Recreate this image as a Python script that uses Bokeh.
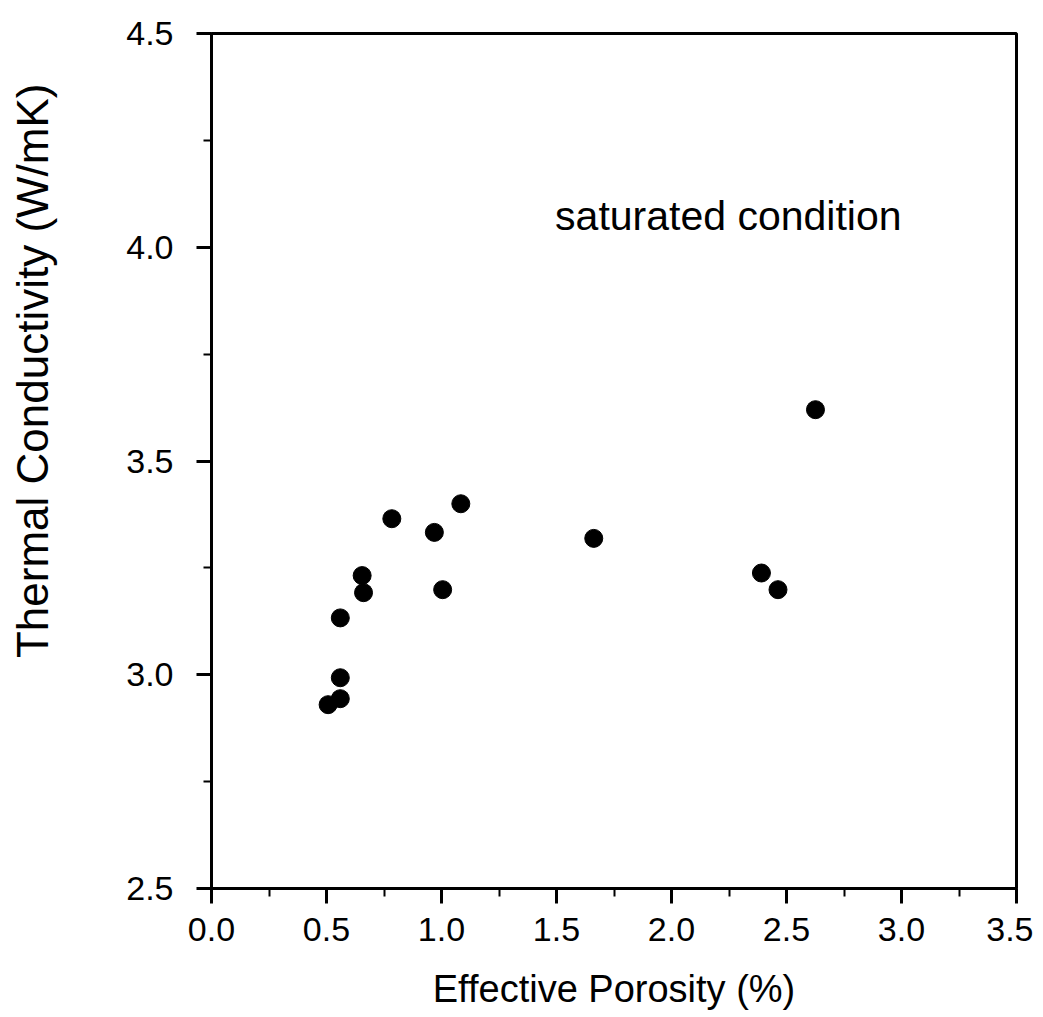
from bokeh.plotting import figure
from bokeh.models import Range1d, FixedTicker, NumeralTickFormatter, Label, Title, ColumnDataSource
from bokeh.embed import file_html
from bokeh.resources import INLINE

# ---- data ----
porosity = [0.507, 0.560, 0.560, 0.560, 0.655, 0.661, 0.784, 0.969, 1.005, 1.084, 1.662, 2.391, 2.463, 2.626]
conductivity = [2.930, 2.944, 2.993, 3.133, 3.232, 3.192, 3.365, 3.333, 3.199, 3.400, 3.319, 3.238, 3.199, 3.620]

x_ticks = [0.0, 0.5, 1.0, 1.5, 2.0, 2.5, 3.0, 3.5]
x_minor = [0.25, 0.75, 1.25, 1.75, 2.25, 2.75, 3.25]
y_ticks = [2.5, 3.0, 3.5, 4.0, 4.5]
y_minor = [2.75, 3.25, 3.75, 4.25]

x_label = "Effective Porosity (%)"
y_label = "Thermal Conductivity (W/mK)"
note = "saturated condition"

FONT = "Liberation Sans"

p = figure(width=1033, height=1017,
           x_range=Range1d(0, 3.5), y_range=Range1d(2.5, 4.5),
           output_backend="svg", toolbar_location=None,
           min_border_left=208, min_border_right=17,
           min_border_top=33, min_border_bottom=129)

p.background_fill_color = "white"
p.border_fill_color = "white"
p.outline_line_color = "black"
p.outline_line_width = 3
p.xgrid.visible = False
p.ygrid.visible = False

src = ColumnDataSource(dict(x=porosity, y=conductivity))
p.scatter("x", "y", source=src, size=18, marker="circle",
          fill_color="black", line_color="black")

for ax in (p.xaxis[0], p.yaxis[0]):
    ax.axis_line_width = 3
    ax.axis_line_color = "black"
    ax.major_tick_line_width = 3
    ax.minor_tick_line_width = 2
    ax.major_tick_in = 0
    ax.major_tick_out = 15
    ax.minor_tick_in = 0
    ax.minor_tick_out = 8
    ax.major_label_text_font = FONT
    ax.major_label_text_font_size = "34px"
    ax.major_label_text_color = "black"
    ax.formatter = NumeralTickFormatter(format="0.0")

p.xaxis[0].ticker = FixedTicker(ticks=x_ticks, minor_ticks=x_minor)
p.yaxis[0].ticker = FixedTicker(ticks=y_ticks, minor_ticks=y_minor)
p.xaxis[0].major_label_standoff = 14
p.yaxis[0].major_label_standoff = 23

p.xaxis[0].axis_label = x_label
p.xaxis[0].axis_label_text_font = FONT
p.xaxis[0].axis_label_text_font_size = "38px"
p.xaxis[0].axis_label_text_font_style = "normal"
p.xaxis[0].axis_label_text_color = "black"
p.xaxis[0].axis_label_standoff = 24

# spacer so that the y title sits at the far left, as in the reference
p.yaxis[0].axis_label = " "
p.yaxis[0].axis_label_text_font_size = "1px"
p.yaxis[0].axis_label_standoff = 58

# y-axis title, shifted toward the top like the reference
p.add_layout(Title(text=y_label, align="right", offset=50, standoff=10,
                   text_font=FONT, text_font_size="44px",
                   text_font_style="normal", text_color="black"), "left")

p.add_layout(Label(x=1.494, y=4.074, text=note,
                   text_align="left", text_baseline="alphabetic",
                   text_font=FONT, text_font_size="41px", text_color="black"))

open("out.html", "w").write(file_html(p, INLINE))
